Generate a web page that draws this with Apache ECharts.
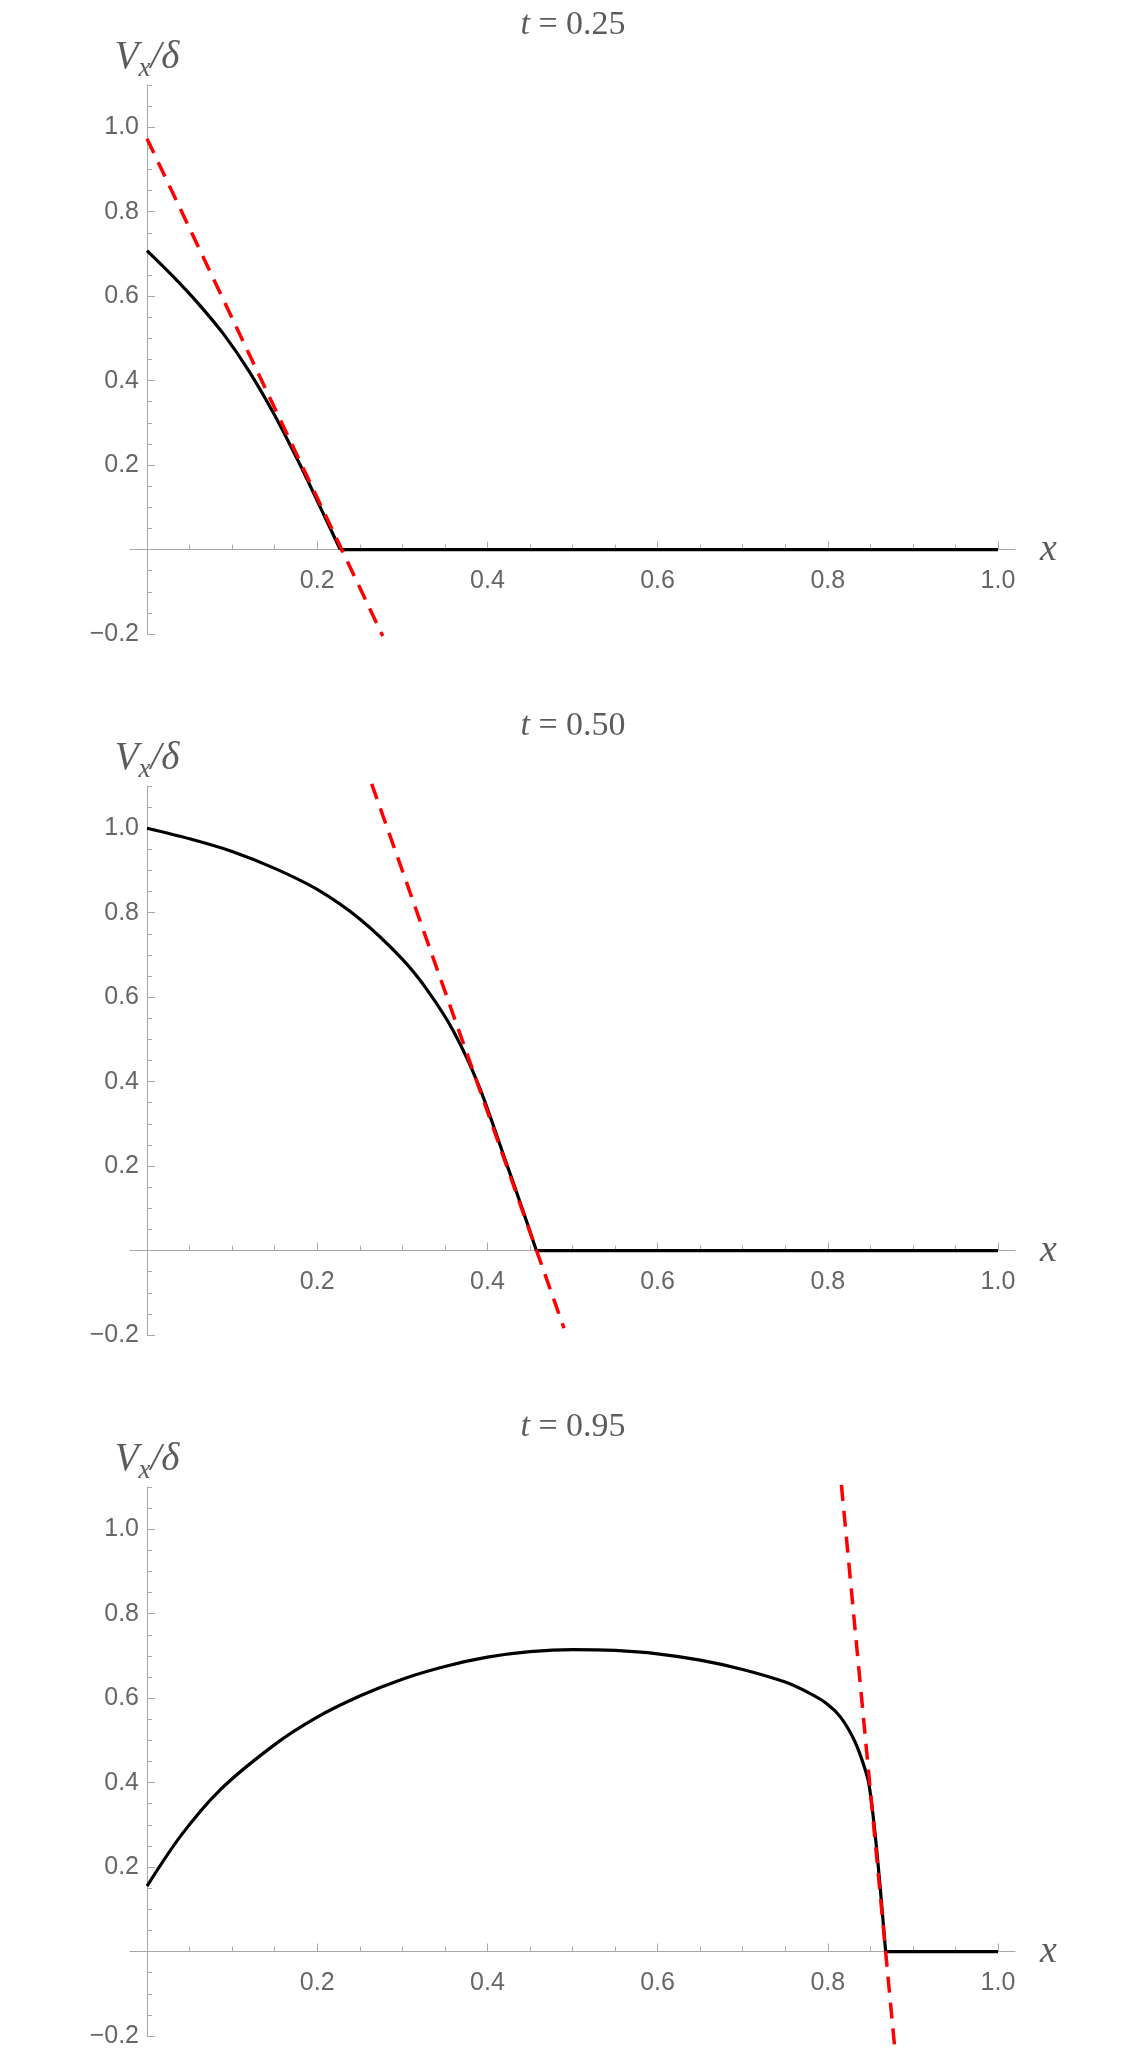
<!DOCTYPE html>
<html>
<head>
<meta charset="utf-8">
<script src="https://cdn.jsdelivr.net/npm/echarts@6/dist/echarts.min.js"></script>
<style>
  html, body { margin: 0; padding: 0; background: #fff; }
  #chart { width: 1146px; height: 2057px; }
</style>
</head>
<body>
<div id="chart"></div>
<script>
// panel titles (time values)
const titles = ['0.25', '0.50', '0.95'];

// black curves; the last point is x = 1 (flat part on the axis)
const curve1X = [0, 0.03, 0.06, 0.09, 0.12, 0.15, 0.18, 0.205, 0.227, 1.0];
const curve1Y = [0.708, 0.648, 0.583, 0.51, 0.422, 0.318, 0.2, 0.094, 0, 0];

const curve2X = [0, 0.05, 0.1, 0.15, 0.2, 0.25, 0.3, 0.33, 0.36, 0.39, 0.42, 0.44, 0.4575, 1.0];
const curve2Y = [1.0, 0.975, 0.945, 0.905, 0.855, 0.785, 0.69, 0.615, 0.52, 0.39, 0.22, 0.105, 0, 0];

const curve3X = [0, 0.04, 0.086, 0.15, 0.2, 0.25, 0.3, 0.35, 0.4, 0.45, 0.5, 0.55, 0.6, 0.65, 0.7, 0.75,
  0.78, 0.8, 0.815, 0.83, 0.84, 0.848, 0.855, 0.861, 0.868, 1.0];
const curve3Y = [0.155, 0.275, 0.383, 0.49, 0.555, 0.605, 0.645, 0.675, 0.697, 0.71, 0.715, 0.713, 0.705, 0.69, 0.668, 0.638,
  0.61, 0.585, 0.555, 0.505, 0.455, 0.4, 0.29, 0.165, 0, 0];

// red dashed tangents (end points)
const tan1X = [0, 0.277];
const tan1Y = [0.973, -0.205];
const tan2X = [0.264, 0.49];
const tan2Y = [1.105, -0.184];
const tan3X = [0.816, 0.879];
const tan3Y = [1.105, -0.235];

// ticks
const xMajor = [0.2, 0.4, 0.6, 0.8, 1.0];
const xMinor = [0.05, 0.1, 0.15, 0.25, 0.3, 0.35, 0.45, 0.5, 0.55, 0.65, 0.7, 0.75, 0.85, 0.9, 0.95];
const yMajor = [-0.2, 0.2, 0.4, 0.6, 0.8, 1.0];
const yMinor = [-0.15, -0.1, -0.05, 0.05, 0.1, 0.15, 0.25, 0.3, 0.35, 0.45, 0.5, 0.55,
  0.65, 0.7, 0.75, 0.85, 0.9, 0.95, 1.05, 1.1];

const curves = [[curve1X, curve1Y], [curve2X, curve2Y], [curve3X, curve3Y]];
const tangents = [[tan1X, tan1Y], [tan2X, tan2Y], [tan3X, tan3Y]];

// layout: x from -0.02 to 1.02, y from -0.2 to 1.1
const panelTop = [85, 786, 1487];
const gridLeft = 130, gridWidth = 885, gridHeight = 549;
const xOff = -gridWidth * 0.02 / 1.04;   // shift y axis onto x = 0
const yOff = -gridHeight * 0.2 / 1.3;    // shift x axis onto y = 0

const axisColor = '#a8a8a8';
const labelColor = '#666666';
const textColor = '#5c5c5c';
const serif = '"Liberation Serif", "DejaVu Serif", serif';
const sans = '"Liberation Sans", Arial, sans-serif';

const zip = (xs, ys) => xs.map((x, i) => [x, ys[i]]);
const fmt = (v) => (v < 0 ? '\u2212' + Math.abs(v).toFixed(1) : v.toFixed(1));

let grids = [], xAxes = [], yAxes = [], series = [], titleList = [];

for (let i = 0; i < 3; i++) {
  grids.push({ left: gridLeft, width: gridWidth, top: panelTop[i], height: gridHeight });

  titleList.push({
    text: '{i|t} = ' + titles[i],
    left: 573,
    top: panelTop[i] - 77,
    textAlign: 'center',
    padding: 0,
    textStyle: {
      fontFamily: serif, fontSize: 34, fontWeight: 'normal', color: textColor,
      rich: { i: { fontFamily: serif, fontSize: 34, fontStyle: 'italic', color: textColor } },
    },
  });

  const major = 2 * i;
  // major x axis (line, long ticks, labels, name)
  xAxes.push({
    gridIndex: i, type: 'value', min: -0.02, max: 1.02, position: 'bottom', offset: yOff,
    axisLine: { onZero: false, lineStyle: { color: axisColor, width: 1 } },
    axisTick: { inside: true, length: 8, customValues: xMajor, lineStyle: { color: axisColor } },
    axisLabel: { customValues: xMajor, formatter: fmt, margin: 19, color: labelColor, fontSize: 25, fontFamily: sans },
    splitLine: { show: false },
    name: 'x', nameLocation: 'end', nameGap: 25,
    nameTextStyle: { fontFamily: serif, fontStyle: 'italic', fontSize: 38, color: textColor, verticalAlign: 'middle' },
  });
  // minor x ticks
  xAxes.push({
    gridIndex: i, type: 'value', min: -0.02, max: 1.02, position: 'bottom', offset: yOff,
    axisLine: { onZero: false, lineStyle: { color: axisColor, opacity: 0 } },
    axisTick: { inside: true, length: 5, customValues: xMinor, lineStyle: { color: axisColor } },
    axisLabel: { show: false },
    splitLine: { show: false },
  });
  yAxes.push({
    gridIndex: i, type: 'value', min: -0.2, max: 1.1, position: 'left', offset: xOff,
    axisLine: { onZero: false, lineStyle: { color: axisColor, width: 1 } },
    axisTick: { inside: true, length: 8, customValues: yMajor, lineStyle: { color: axisColor } },
    axisLabel: { customValues: yMajor, formatter: fmt, margin: 8, color: labelColor, fontSize: 25, fontFamily: sans },
    splitLine: { show: false },
    name: '{v|V}{s|x}{v|/\u03b4}', nameLocation: 'end', nameGap: 3,
    nameTextStyle: {
      color: textColor,
      rich: {
        v: { fontFamily: serif, fontStyle: 'italic', fontSize: 39, lineHeight: 48, color: textColor },
        s: { fontFamily: serif, fontStyle: 'italic', fontSize: 27, verticalAlign: 'bottom', color: textColor },
      },
    },
  });
  yAxes.push({
    gridIndex: i, type: 'value', min: -0.2, max: 1.1, position: 'left', offset: xOff,
    axisLine: { onZero: false, lineStyle: { color: axisColor, opacity: 0 } },
    axisTick: { inside: true, length: 5, customValues: yMinor, lineStyle: { color: axisColor } },
    axisLabel: { show: false },
    splitLine: { show: false },
  });

  const pts = zip(curves[i][0], curves[i][1]);
  // curved part
  series.push({
    type: 'line', xAxisIndex: major, yAxisIndex: major,
    data: pts.slice(0, pts.length - 1),
    showSymbol: false, smooth: 0.3,
    lineStyle: { color: '#000', width: 3.2 }, z: 3,
  });
  // flat part on the axis
  series.push({
    type: 'line', xAxisIndex: major, yAxisIndex: major,
    data: pts.slice(pts.length - 2),
    showSymbol: false,
    lineStyle: { color: '#000', width: 3.2 }, z: 3,
  });
  // tangent
  series.push({
    type: 'line', xAxisIndex: major, yAxisIndex: major,
    data: zip(tangents[i][0], tangents[i][1]),
    showSymbol: false, clip: false,
    lineStyle: { color: '#ff0000', width: 3.5, type: [16, 10] }, z: 4,
  });
}

const chart = echarts.init(document.getElementById('chart'), null, { renderer: 'canvas' });
chart.setOption({
  animation: false,
  backgroundColor: '#fff',
  title: titleList,
  grid: grids,
  xAxis: xAxes,
  yAxis: yAxes,
  series: series,
});
</script>
</body>
</html>
